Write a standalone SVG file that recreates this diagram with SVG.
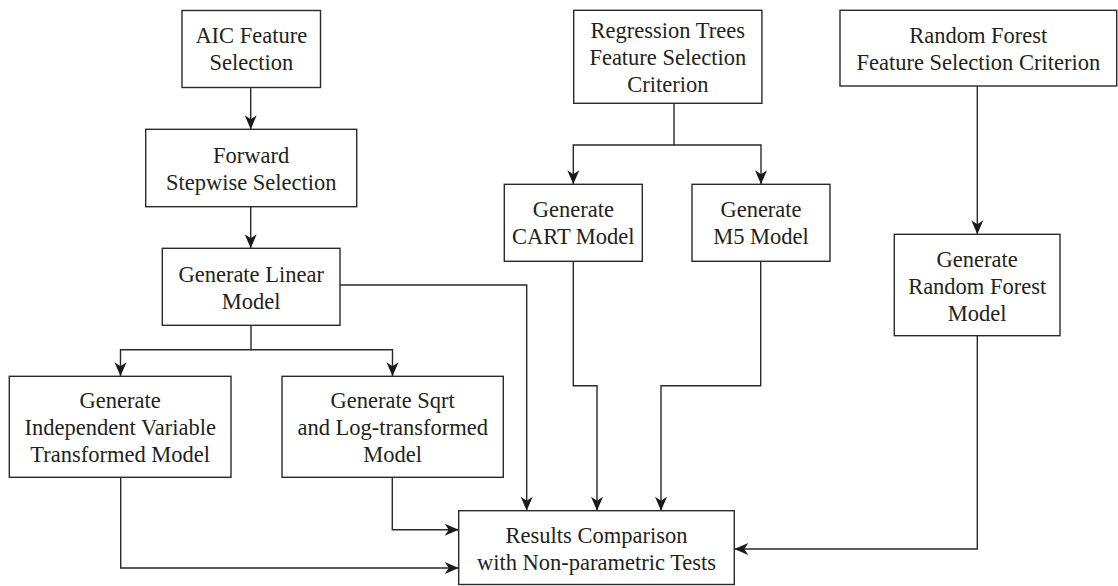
<svg xmlns="http://www.w3.org/2000/svg" width="1118" height="586" viewBox="0 0 1118 586">
<style>
.box{fill:#fff;stroke:#2a2a2a;stroke-width:1.4}
.c{fill:none;stroke:#2a2a2a;stroke-width:1.4;marker-end:url(#ah)}
.cn{fill:none;stroke:#2a2a2a;stroke-width:1.4}
text{font-family:"Liberation Serif","Times New Roman",serif;font-size:22.5px;fill:#231f20;text-anchor:middle}
</style>
<defs>
<marker id="ah" markerUnits="userSpaceOnUse" viewBox="-15 -7 16 14" markerWidth="16" markerHeight="14" refX="0" refY="0" orient="auto">
<path d="M0,0 L-14,-6 L-10,0 L-14,6 Z" fill="#1a1a1a"/>
</marker>
</defs>
<rect width="1118" height="586" fill="#fff"/>
<g id="connectors">
<path class="c" d="M250.7,87.3 V129.3"/>
<path class="c" d="M250.7,206.7 V248.3"/>
<path class="c" d="M251,325.3 V349.7 H120.5 V376.3"/>
<path class="c" d="M251,349.7 H392.5 V376.3"/>
<path class="c" d="M340,285 H526.7 V510.7"/>
<path class="c" d="M120.7,477.3 V568 H458.7"/>
<path class="c" d="M392.3,477.3 V529.7 H458.7"/>
<path class="c" d="M674,103.3 V145 H573.3 V184.3"/>
<path class="c" d="M674,145 H761 V184.3"/>
<path class="c" d="M573.3,261.3 V385.7 H597 V510.7"/>
<path class="c" d="M760.7,261.3 V385.7 H661 V510.7"/>
<path class="c" d="M977.3,86 V234.3"/>
<path class="c" d="M977.3,335.7 V549 H734.3"/>
</g>
<g id="aic">
<rect class="box" x="182" y="10.5" width="138.5" height="77"/>
<text x="251.3" y="43.3">AIC Feature</text>
<text x="251.3" y="70.3">Selection</text>
</g>
<g id="forward">
<rect class="box" x="145.7" y="129.3" width="211" height="77.4"/>
<text x="251.2" y="162.5">Forward</text>
<text x="251.2" y="189.5">Stepwise Selection</text>
</g>
<g id="linear">
<rect class="box" x="162.3" y="248.3" width="177.7" height="77"/>
<text x="251.2" y="281.5">Generate Linear</text>
<text x="251.2" y="308.5">Model</text>
</g>
<g id="indep">
<rect class="box" x="9.3" y="376.3" width="221.7" height="101"/>
<text x="120.2" y="408">Generate</text>
<text x="120.2" y="435">Independent Variable</text>
<text x="120.2" y="462">Transformed Model</text>
</g>
<g id="sqrtlog">
<rect class="box" x="282" y="376.3" width="221.3" height="101"/>
<text x="392.7" y="408">Generate Sqrt</text>
<text x="392.7" y="435">and Log-transformed</text>
<text x="392.7" y="462">Model</text>
</g>
<g id="regtrees">
<rect class="box" x="573.7" y="10.3" width="188.2" height="93"/>
<text x="667.8" y="37.8">Regression Trees</text>
<text x="667.8" y="64.8">Feature Selection</text>
<text x="667.8" y="91.8">Criterion</text>
</g>
<g id="cart">
<rect class="box" x="504.3" y="184.3" width="138" height="77"/>
<text x="573.3" y="217.3">Generate</text>
<text x="573.3" y="244.3">CART Model</text>
</g>
<g id="m5">
<rect class="box" x="692" y="184.3" width="138" height="77"/>
<text x="761" y="217.3">Generate</text>
<text x="761" y="244.3">M5 Model</text>
</g>
<g id="rf">
<rect class="box" x="840" y="10.3" width="276.7" height="75.7"/>
<text x="978.3" y="43">Random Forest</text>
<text x="978.3" y="70">Feature Selection Criterion</text>
</g>
<g id="rfmodel">
<rect class="box" x="894.3" y="234.3" width="165.7" height="101.4"/>
<text x="977.2" y="266.5">Generate</text>
<text x="977.2" y="293.5">Random Forest</text>
<text x="977.2" y="320.5">Model</text>
</g>
<g id="results">
<rect class="box" x="458.7" y="510.7" width="275.6" height="73.8"/>
<text x="596.5" y="543">Results Comparison</text>
<text x="596.5" y="569.7">with Non-parametric Tests</text>
</g>
</svg>
